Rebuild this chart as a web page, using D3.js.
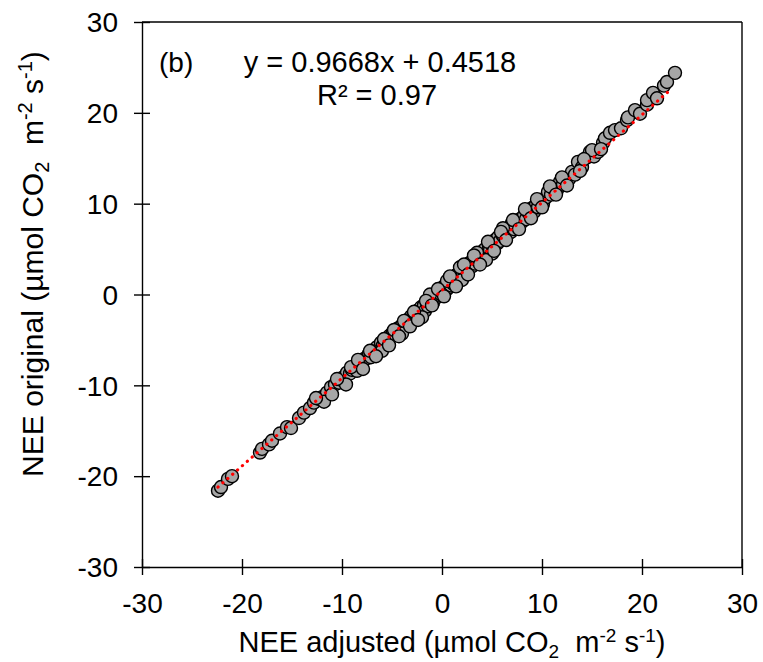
<!DOCTYPE html>
<html>
<head>
<meta charset="utf-8">
<script src="https://cdn.jsdelivr.net/npm/d3@7"></script>
<style>
  html, body { margin: 0; padding: 0; background: #fff; }
  svg text { font-family: "Liberation Sans", Arial, sans-serif; fill: #000; }
</style>
</head>
<body>
<svg id="chart" width="763" height="662"></svg>
<script>
// ---- data ----
const xValues = [
  -22.4, -22.1, -21.4, -21.0, -18.2, -18.0, -17.3, -17.0, -16.2, -15.5, -15.1, -14.3, -13.8, -13.2, -12.8, -12.3,
  -12.0, -11.5, -11.1, -10.7, -10.3, -10.0, -9.8, -9.5, -9.2, -9.0, -8.7, -8.5, -8.2, -8.0, -7.8, -7.5,
  -7.3, -7.1, -6.9, -6.7, -6.5, -6.3, -6.1, -5.9, -5.7, -5.5, -5.4, -5.2, -5.0, -4.9, -4.7, -4.5,
  -4.4, -4.2, -4.0, -3.9, -3.7, -3.6, -3.4, -3.3, -3.1, -3.0, -2.9, -2.7, -2.6, -2.5, -2.3, -2.2,
  -2.1, -1.9, -1.8, -1.7, -1.5, -1.4, -1.3, -1.1, -1.0, -0.9, -0.8, -0.7, -0.6, -0.5, -0.4, -0.3,
  -0.2, -0.1, 0.0, 0.1, 0.2, 0.3, 0.4, 0.5, 0.6, 0.7, 0.8, 0.9, 1.0, 1.1, 1.2, 1.3,
  1.5, 1.6, 1.7, 1.9, 2.0, 2.1, 2.3, 2.4, 2.5, 2.7, 2.8, 3.0, 3.1, 3.3, 3.4, 3.6,
  3.7, 3.9, 4.0, 4.2, 4.3, 4.5, 4.7, 4.8, 5.0, 5.1, 5.3, 5.5, 5.6, 5.8, 6.0, 6.2,
  6.3, 6.5, 6.7, 6.9, 7.0, 7.2, 7.4, 7.6, 7.8, 8.0, 8.2, 8.4, 8.6, 8.8, 9.0, 9.2,
  9.4, 9.6, 9.9, 10.1, 10.4, 10.6, 10.9, 11.2, 11.5, 11.8, 12.1, 12.3, 12.7, 13.0, 13.3, 13.6,
  14.0, 14.5, 14.8, 15.2, 15.6, 16.1, 16.3, 16.8, 17.3, 17.9, 18.5, 18.6, 19.3, 19.8, 20.5, 20.5,
  21.1, 21.5, 22.2, 22.5, 23.3,
  -6.0, -4.0, -2.0, 0.5, 2.0, 3.5, 5.0, 7.0, -1.2, 1.8, 4.4, 6.1,
  -9.6, -9.1, -8.4, -7.9, -7.2, -6.6, -5.8, -5.3, -4.8, -4.3, -3.8, -3.2, -2.8, -2.4, -1.6, -1.0,
  -0.4, 0.2, 0.8, 1.4, 2.2, 2.6, 3.2, 3.8, 4.6, 5.2, 5.9, 6.4, 7.1, 7.7, 8.3, 8.9,
  9.5, 10.0, 10.8, 11.4, 12.0, 12.5, -11.8, -10.5, -12.6, -11.0, 13.8, 15.0, 15.9, 14.2
];
const yValues = [
  -21.6, -21.2, -20.3, -20.0, -17.4, -17.0, -16.5, -16.1, -15.3, -14.6, -14.7, -13.6, -13.0, -12.5, -11.9, -11.5,
  -11.3, -10.8, -10.2, -9.9, -9.7, -9.2, -9.6, -8.6, -8.7, -8.3, -8.0, -8.4, -7.4, -7.6, -7.1, -7.0,
  -6.5, -6.9, -6.2, -6.3, -5.8, -6.0, -5.3, -5.6, -5.1, -4.8, -5.2, -4.5, -4.6, -4.1, -4.4, -3.8,
  -4.2, -3.6, -3.4, -3.8, -3.0, -3.3, -2.8, -3.1, -2.4, -2.6, -2.9, -2.2, -1.9, -2.5, -1.7, -2.0,
  -1.4, -1.6, -1.2, -1.8, -0.9, -1.3, -0.6, -0.8, -0.3, -0.9, 0.0, -0.4, 0.1, -0.3, 0.3, -0.1,
  0.5, 0.0, 0.7, 0.2, 0.9, 0.4, 1.1, 0.6, 1.3, 0.8, 1.5, 1.0, 1.7, 1.2, 1.9, 1.4,
  2.2, 1.7, 2.4, 2.0, 2.7, 2.3, 3.0, 2.5, 3.2, 2.9, 3.5, 3.1, 3.8, 3.4, 4.1, 3.7,
  4.4, 4.0, 4.7, 4.3, 5.0, 4.6, 5.4, 4.9, 5.7, 5.2, 6.0, 5.6, 6.3, 5.9, 6.6, 6.3,
  7.0, 6.5, 7.3, 6.9, 7.6, 7.2, 8.0, 7.6, 8.3, 8.0, 8.7, 8.3, 9.1, 8.8, 9.5, 9.1,
  9.9, 9.6, 10.3, 10.0, 10.7, 11.3, 11.0, 11.6, 11.5, 12.4, 12.1, 12.8, 12.7, 13.5, 13.2, 14.6,
  14.0, 15.1, 15.7, 15.2, 15.7, 16.7, 17.2, 17.8, 18.1, 18.3, 19.2, 19.5, 20.3, 19.9, 20.9, 21.4,
  22.2, 21.6, 23.0, 23.4, 24.4,
  -6.2, -4.3, -2.5, 1.5, 1.6, 4.6, 4.5, 7.9, 0.0, 3.0, 3.8, 7.3,
  -9.9, -8.0, -7.2, -8.2, -6.2, -6.8, -4.9, -5.6, -3.9, -4.6, -2.9, -3.5, -1.9, -2.8, -0.7, -1.2,
  0.6, -0.2, 2.0, 0.9, 3.3, 2.2, 4.3, 3.3, 5.8, 4.8, 6.9, 6.0, 8.2, 7.2, 9.4, 8.4,
  10.5, 9.6, 11.9, 11.0, 12.9, 12.0, -11.8, -9.3, -11.4, -11.0, 13.6, 15.9, 16.0, 14.9
];
const xTicks = [-30, -20, -10, 0, 10, 20, 30];
const yTicks = [-30, -20, -10, 0, 10, 20, 30];
const trendSlope = 0.9668;
const trendIntercept = 0.4518;
const panelLabel = "(b)";
const equationText = "y = 0.9668x + 0.4518";
const r2Text = "R² = 0.97";

// ---- layout ----
const svg = d3.select("#chart");
const mLeft = 142, mRight = 742, mTop = 22, mBottom = 567;
const x = d3.scaleLinear().domain([-30, 30]).range([mLeft, mRight]);
const y = d3.scaleLinear().domain([-30, 30]).range([mBottom, mTop]);
const fmt = d => String(d);

// frame (top & right)
svg.append("line").attr("x1", mLeft).attr("x2", mRight).attr("y1", mTop).attr("y2", mTop)
  .attr("stroke", "#000").attr("stroke-width", 1.4);
svg.append("line").attr("x1", mRight).attr("x2", mRight).attr("y1", mTop).attr("y2", mBottom)
  .attr("stroke", "#000").attr("stroke-width", 1.4);

// axes
const xAxis = svg.append("g").attr("transform", `translate(0,${mBottom})`)
  .call(d3.axisBottom(x).tickValues(xTicks).tickSize(0).tickFormat(fmt));
const yAxis = svg.append("g").attr("transform", `translate(${mLeft},0)`)
  .call(d3.axisLeft(y).tickValues(yTicks).tickSize(0).tickFormat(fmt));
[xAxis, yAxis].forEach(g => {
  g.select(".domain").attr("stroke", "#000").attr("stroke-width", 1.4);
  g.selectAll("text").attr("font-size", 28).attr("font-family", "Liberation Sans, Arial, sans-serif").attr("fill", "#000");
});
xAxis.selectAll(".tick line").remove();
yAxis.selectAll(".tick line").remove();
xAxis.selectAll(".tick").append("line").attr("y1", -8).attr("y2", 8).attr("stroke", "#000").attr("stroke-width", 1.4);
yAxis.selectAll(".tick").append("line").attr("x1", -8).attr("x2", 8).attr("stroke", "#000").attr("stroke-width", 1.4);
xAxis.selectAll("text").attr("y", 26).attr("dy", "0.71em");
yAxis.selectAll("text").attr("x", -24).attr("dy", "0.35em");

// points
const pts = xValues.map((v, i) => [v, yValues[i]]);
svg.append("g").selectAll("circle").data(pts).join("circle")
  .attr("cx", d => x(d[0])).attr("cy", d => y(d[1])).attr("r", 6.5)
  .attr("fill", "#a6a6a6").attr("stroke", "#000").attr("stroke-width", 1.4);

// trendline
const xExt = d3.extent(xValues);
svg.append("line")
  .attr("x1", x(xExt[0])).attr("y1", y(trendSlope * xExt[0] + trendIntercept))
  .attr("x2", x(xExt[1] - 0.5)).attr("y2", y(trendSlope * (xExt[1] - 0.5) + trendIntercept))
  .attr("stroke", "#ff0000").attr("stroke-width", 3.2).attr("stroke-linecap", "round")
  .attr("stroke-dasharray", "0.1 6.4");

// annotations
svg.append("text").attr("x", 159).attr("y", 72).attr("font-size", 28).text(panelLabel);
svg.append("text").attr("x", 380).attr("y", 72).attr("font-size", 29).attr("text-anchor", "middle").text(equationText);
svg.append("text").attr("x", 377).attr("y", 105).attr("font-size", 29).attr("text-anchor", "middle").text(r2Text);

// axis titles
const xt = svg.append("text").attr("x", 452).attr("y", 652).attr("font-size", 29).attr("text-anchor", "middle")
  .attr("xml:space", "preserve");
xt.append("tspan").text("NEE adjusted (µmol CO");
xt.append("tspan").attr("font-size", 19).attr("dy", 6).text("2");
xt.append("tspan").attr("dy", -6).text("  m");
xt.append("tspan").attr("font-size", 19).attr("dy", -10).text("-2");
xt.append("tspan").attr("dy", 10).text(" s");
xt.append("tspan").attr("font-size", 19).attr("dy", -10).text("-1");
xt.append("tspan").attr("dy", 10).text(")");

const yt = svg.append("text").attr("transform", "translate(43,264) rotate(-90)")
  .attr("font-size", 30).attr("text-anchor", "middle").attr("xml:space", "preserve");
yt.append("tspan").text("NEE original (µmol CO");
yt.append("tspan").attr("font-size", 20).attr("dy", 6).text("2");
yt.append("tspan").attr("dy", -6).text("  m");
yt.append("tspan").attr("font-size", 20).attr("dy", -11).text("-2");
yt.append("tspan").attr("dy", 11).text(" s");
yt.append("tspan").attr("font-size", 20).attr("dy", -11).text("-1");
yt.append("tspan").attr("dy", 11).text(")");
</script>
</body>
</html>
